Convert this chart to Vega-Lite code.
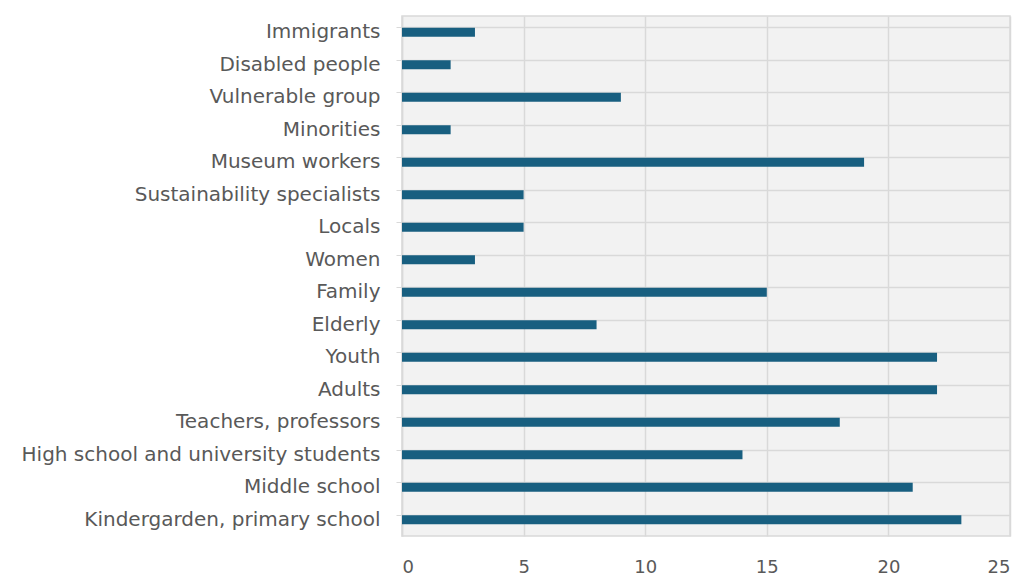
{
  "$schema": "https://vega.github.io/schema/vega-lite/v6.json",
  "autosize": {"type": "none"},
  "padding": {"left": 402, "top": 16, "right": 16, "bottom": 42},
  "width": 608,
  "height": 520,
  "background": "white",
  "data": {
    "values": [
      {"group": "Immigrants", "count": 3},
      {"group": "Disabled people", "count": 2},
      {"group": "Vulnerable group", "count": 9},
      {"group": "Minorities", "count": 2},
      {"group": "Museum workers", "count": 19},
      {"group": "Sustainability specialists", "count": 5},
      {"group": "Locals", "count": 5},
      {"group": "Women", "count": 3},
      {"group": "Family", "count": 15},
      {"group": "Elderly ", "count": 8},
      {"group": "Youth", "count": 22},
      {"group": "Adults", "count": 22},
      {"group": "Teachers, professors", "count": 18},
      {"group": "High school and university students", "count": 14},
      {"group": "Middle school", "count": 21},
      {"group": "Kindergarden, primary school ", "count": 23}
    ]
  },
  "mark": {"type": "bar", "color": "#185f80"},
  "encoding": {
    "y": {
      "field": "group",
      "type": "nominal",
      "sort": null,
      "title": null,
      "scale": {"paddingInner": 0.72, "paddingOuter": 0.36},
      "axis": {
        "bandPosition": 0,
        "grid": true,
        "gridColor": "#d9d9d9",
        "gridWidth": 1.5,
        "domainColor": "#d9d9d9",
        "domainWidth": 1.5,
        "tickColor": "#d9d9d9",
        "tickSize": 6,
        "labelPadding": 16,
        "labelFont": "DejaVu Sans",
        "labelFontSize": 20,
        "labelColor": "#595959",
        "labelLimit": 500
      }
    },
    "x": {
      "field": "count",
      "type": "quantitative",
      "title": null,
      "scale": {"domain": [0, 25], "nice": false},
      "axis": {
        "values": [0, 5, 10, 15, 20, 25],
        "grid": true,
        "gridColor": "#d9d9d9",
        "gridWidth": 1.5,
        "domain": false,
        "ticks": false,
        "labelPadding": 22,
        "labelFont": "DejaVu Sans",
        "labelFontSize": 18,
        "labelColor": "#595959"
      }
    }
  },
  "config": {
    "view": {"fill": "#f2f2f2", "stroke": "#d9d9d9", "strokeWidth": 1.5}
  }
}
